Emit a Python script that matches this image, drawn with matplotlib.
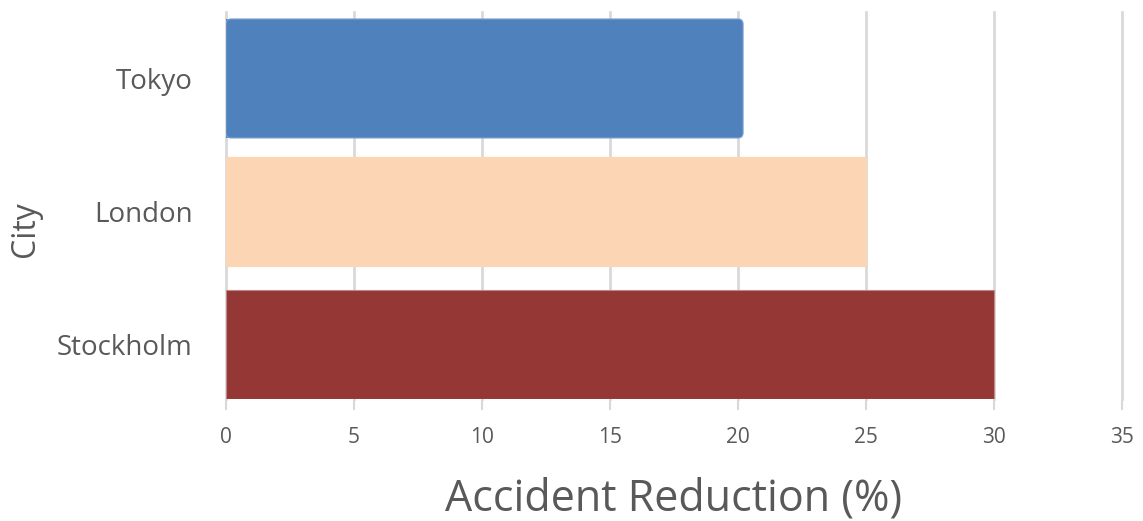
import matplotlib
matplotlib.use('Agg')
from matplotlib import pyplot as plt
from matplotlib.patches import FancyBboxPatch

cities = ['Tokyo', 'London', 'Stockholm']
reduction = [20.2, 25, 30]
colors = ['#4F81BD', '#FCD5B5', '#953735']
edge_colors = ['#7FA3D0', '#FCD5B5', '#C08685']
x_ticks = [0, 5, 10, 15, 20, 25, 30, 35]

text_gray = '#595959'
grid_gray = '#D9D9D9'

plt.rcParams['font.family'] = ['Open Sans', 'DejaVu Sans']


def main():
    fig = plt.figure(figsize=(11.43, 5.21), dpi=100)
    ax = fig.add_axes([0.1977, 0.2342, 0.7839, 0.7428])

    # first bar is a bit taller and gets rounded right-hand corners
    heights = [0.895, 0.82, 0.82]
    for i, (val, c, ec, h) in enumerate(zip(reduction, colors, edge_colors, heights)):
        if i == 0:
            r = 0.2
            ax.barh(i, val - r, height=h, color=c, edgecolor='none', zorder=3)
            box = FancyBboxPatch((0, i - h / 2), val, h,
                                 boxstyle=f'round,pad=0,rounding_size={r}',
                                 mutation_aspect=0.19,
                                 facecolor=c, edgecolor=ec, linewidth=0.8, zorder=3)
            ax.add_patch(box)
        else:
            ax.barh(i, val, height=h, color=c, edgecolor=ec, linewidth=0.8, zorder=3)

    ax.set_xlim(0, 35)
    ax.set_ylim(2.41, -0.5)
    ax.set_xticks(x_ticks)
    ax.set_yticks(range(len(cities)))
    ax.set_yticklabels(cities)

    ax.grid(axis='x', color=grid_gray, linewidth=2, zorder=0)
    for line in ax.get_xgridlines():
        line.set_clip_on(False)
    for s in ax.spines.values():
        s.set_visible(False)

    ax.tick_params(axis='x', length=8, width=1.5, color=grid_gray,
                   labelsize=15, labelcolor=text_gray, pad=12)
    ax.tick_params(axis='y', length=0, labelsize=20, labelcolor=text_gray, pad=24)

    ax.set_xlabel('Accident Reduction (%)', fontsize=31, color=text_gray, labelpad=21)
    ax.set_ylabel('City', fontsize=23, color=text_gray, va='center')
    ax.yaxis.set_label_coords(-0.224, 0.44)

    plt.savefig('out.png', dpi=100)


if __name__ == '__main__':
    main()
